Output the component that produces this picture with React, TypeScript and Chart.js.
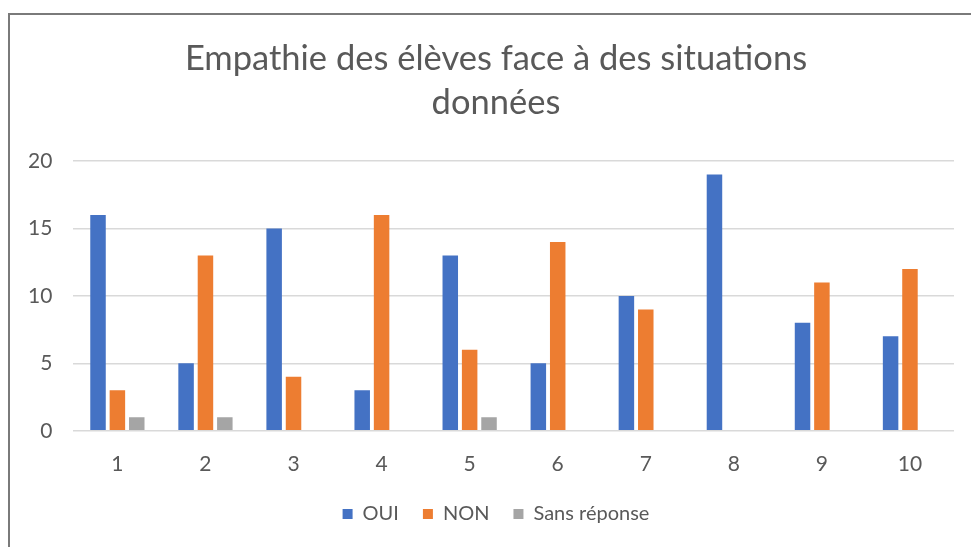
import React, { useEffect, useRef } from "react";
import { Chart, registerables } from "chart.js";

Chart.register(...registerables);

const categories = ["1", "2", "3", "4", "5", "6", "7", "8", "9", "10"];
const oui = [16, 5, 15, 3, 13, 5, 10, 19, 8, 7];
const non = [3, 13, 4, 16, 6, 14, 9, 0, 11, 12];
const sansReponse = [1, 1, 0, 0, 1, 0, 0, 0, 0, 0];
const titleLines = ["Empathie des élèves face à des situations", "données"];

const FONT = "Lato, 'Noto Sans', sans-serif";
const TEXT = "#595959";

export default function App() {
  const ref = useRef<HTMLCanvasElement | null>(null);

  useEffect(() => {
    if (!ref.current) return;
    const chart = new Chart(ref.current, {
      type: "bar",
      data: {
        labels: categories,
        datasets: [
          { label: "OUI", data: oui, backgroundColor: "#4472C4" },
          { label: "NON", data: non, backgroundColor: "#ED7D31" },
          { label: "Sans réponse", data: sansReponse, backgroundColor: "#A5A5A5" },
        ],
      },
      options: {
        animation: false,
        responsive: false,
        maintainAspectRatio: false,
        datasets: {
          bar: { categoryPercentage: 0.66, barPercentage: 0.8 },
        },
        layout: { padding: { left: -3, right: 0, top: 0, bottom: 13 } },
        plugins: {
          tooltip: { enabled: false },
          title: {
            display: true,
            text: titleLines,
            color: TEXT,
            font: { family: FONT, size: 34.5, weight: "normal", lineHeight: 1.275 },
            padding: { top: 22, bottom: 36 },
          },
          legend: {
            position: "bottom",
            labels: {
              color: TEXT,
              font: { family: FONT, size: 20 },
              boxWidth: 10,
              boxHeight: 10,
              padding: 24,
            },
          },
        },
        scales: {
          x: {
            grid: { display: false, drawTicks: false },
            border: { display: false },
            ticks: { color: TEXT, font: { family: FONT, size: 21 }, padding: 21 },
            afterFit: (scale: any) => {
              scale.height -= 18;
            },
          },
          y: {
            min: 0,
            max: 20,
            ticks: { stepSize: 5, color: TEXT, font: { family: FONT, size: 21 }, padding: 21 },
            grid: { color: "#D9D9D9", lineWidth: 1.5, drawTicks: false },
            border: { display: false },
          },
          yRight: {
            type: "linear",
            position: "right",
            display: true,
            grid: { display: false, drawTicks: false },
            border: { display: false },
            ticks: { display: false },
            afterFit: (scale: any) => {
              scale.width = 31;
            },
          },
        },
      },
    });
    return () => chart.destroy();
  }, []);

  return (
    <div style={{ position: "fixed", left: 0, top: 0, width: 971, height: 547, overflow: "hidden", background: "#fff" }}>
      <div
        style={{
          position: "absolute",
          left: 8,
          top: 13,
          width: 1000,
          height: 600,
          borderLeft: "2px solid #7a7a7a",
          borderTop: "2px solid #7a7a7a",
        }}
      />
      <canvas ref={ref} width={975} height={532} style={{ position: "absolute", left: 10, top: 15, width: 975, height: 532 }} />
    </div>
  );
}
